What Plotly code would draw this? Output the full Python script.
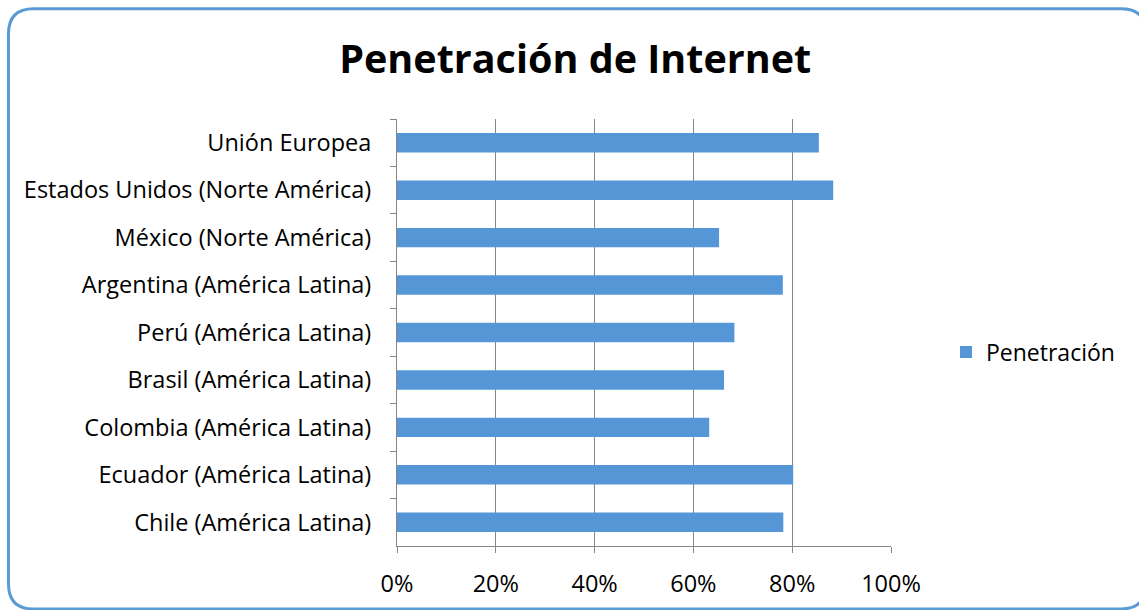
import plotly.graph_objects as go

categories = [
    "Unión Europea",
    "Estados Unidos (Norte América)",
    "México (Norte América)",
    "Argentina (América Latina)",
    "Perú (América Latina)",
    "Brasil (América Latina)",
    "Colombia (América Latina)",
    "Ecuador (América Latina)",
    "Chile (América Latina)",
]
penetracion = [0.854, 0.883, 0.652, 0.781, 0.683, 0.662, 0.632, 0.802, 0.782]
x_ticks = [0, 0.2, 0.4, 0.6, 0.8, 1.0]
x_tick_labels = ["0%", "20%", "40%", "60%", "80%", "100%"]

W, H = 1139, 610
L, R, T, B = 397, 891, 119, 546

def px(x):
    return (x - L) / (R - L)

def py(y):
    return (B - y) / (B - T)

fig = go.Figure()
fig.add_trace(go.Bar(
    x=penetracion, y=categories, orientation="h", name="Penetración",
    marker=dict(color="#5597d6", line=dict(width=0)),
))

# rounded border
x0, y0, x1, y1, r = 8.5, 8.7, 1146, 609, 25
path = (
    f"M {px(x0+r)},{py(y0)} L {px(x1-r)},{py(y0)} "
    f"Q {px(x1)},{py(y0)} {px(x1)},{py(y0+r)} "
    f"L {px(x1)},{py(y1-r)} Q {px(x1)},{py(y1)} {px(x1-r)},{py(y1)} "
    f"L {px(x0+r)},{py(y1)} Q {px(x0)},{py(y1)} {px(x0)},{py(y1-r)} "
    f"L {px(x0)},{py(y0+r)} Q {px(x0)},{py(y0)} {px(x0+r)},{py(y0)} Z"
)
fig.add_shape(type="path", path=path, xref="paper", yref="paper",
              line=dict(color="#5b9bd5", width=3), layer="above")

fig.update_layout(
    width=W, height=H,
    margin=dict(l=L, r=W - R, t=T, b=H - B),
    paper_bgcolor="white", plot_bgcolor="white",
    font=dict(family="Open Sans", size=23.5, color="#000000"),
    title=dict(text="<b>Penetración de Internet</b>", x=0.505, xanchor="center",
               y=1 - 59 / H, yanchor="middle",
               font=dict(family="Open Sans", size=39.5, color="#000000")),
    bargap=0.59,
    showlegend=True,
    legend=dict(x=px(946), y=py(352), xanchor="left", yanchor="middle",
                font=dict(size=23), bgcolor="rgba(0,0,0,0)"),
    xaxis=dict(range=[0, 1], tickvals=x_ticks, ticktext=x_tick_labels,
               showgrid=True, gridcolor="#868686", gridwidth=1,
               showline=True, linecolor="#868686", linewidth=1,
               ticks="outside", ticklen=6, tickcolor="#868686",
               ticklabelstandoff=11, zeroline=False, fixedrange=True),
    yaxis=dict(autorange="reversed", type="category", tickson="boundaries",
               showgrid=False, showline=True, linecolor="#868686", linewidth=1,
               ticks="outside", ticklen=6, tickcolor="#868686",
               ticklabelstandoff=20, fixedrange=True),
)

fig.write_html("out.html")
